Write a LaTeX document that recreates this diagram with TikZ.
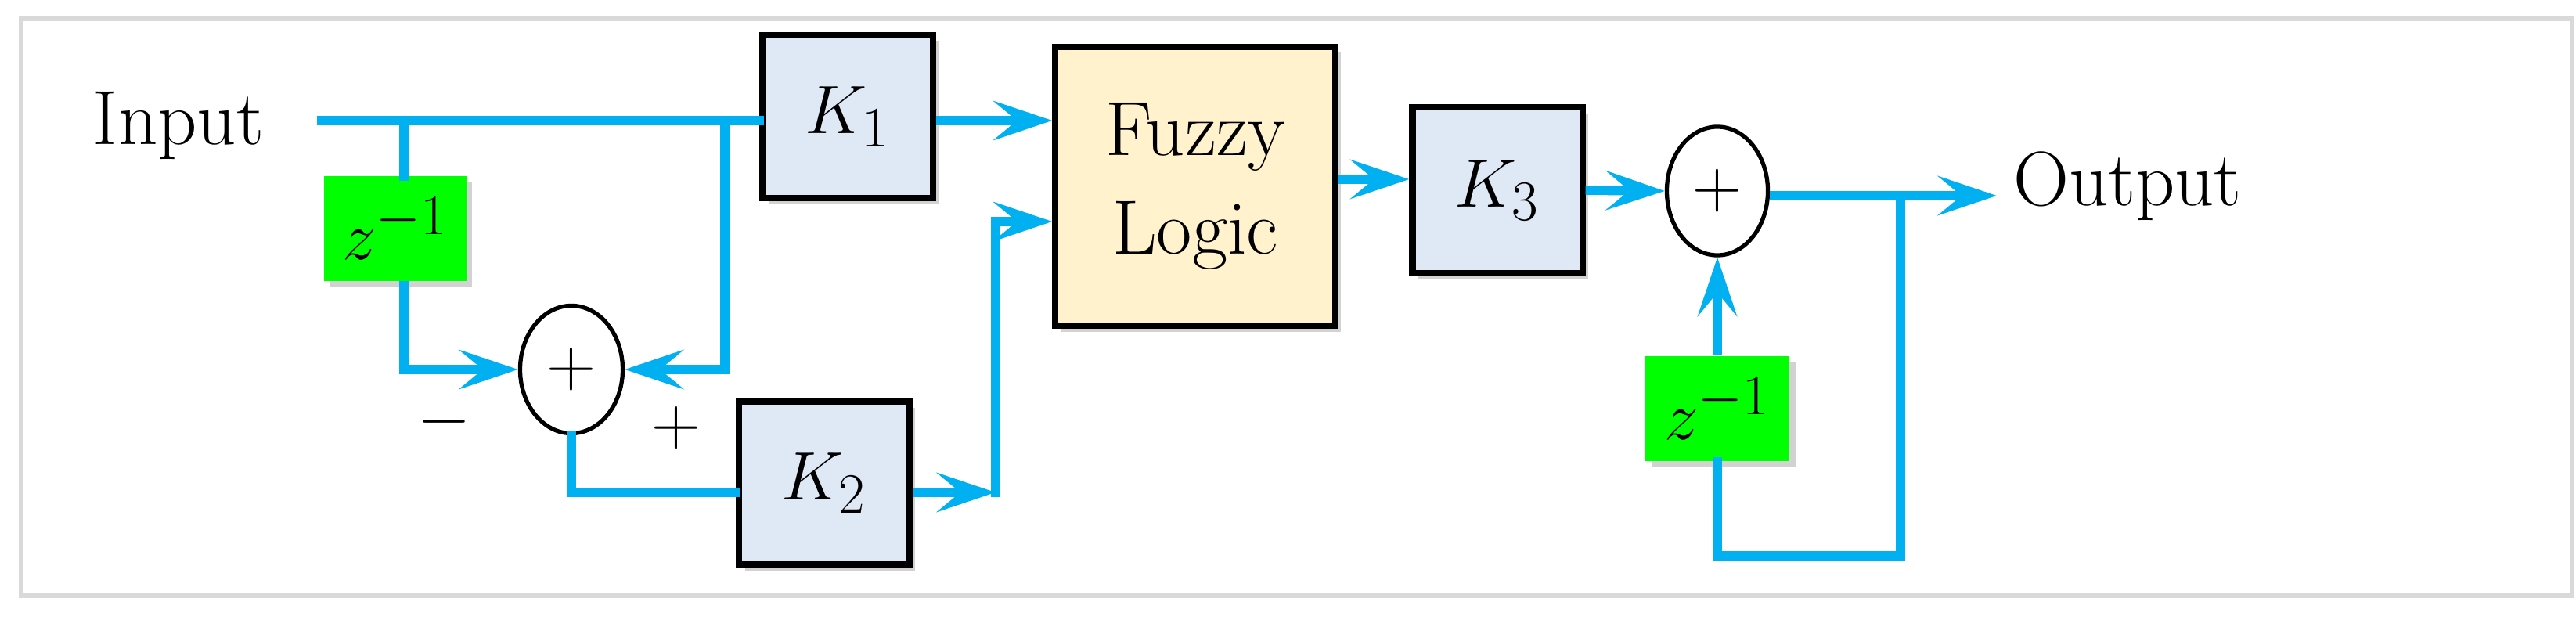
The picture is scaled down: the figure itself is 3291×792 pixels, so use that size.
\documentclass[tikz,border=0pt]{standalone}
\usetikzlibrary{arrows.meta,shadows,shapes.geometric}
\begin{document}
\begin{tikzpicture}[x={(0.01cm,0)},y={(0,-0.01cm)},
  font=\fontsize{28}{32}\selectfont,
  wire/.style={draw={rgb,255:red,0;green,176;blue,240},line width=3.4pt,line cap=rect},
  arr/.style={draw={rgb,255:red,0;green,176;blue,240},line width=3.4pt,-{Stealth[length=7.5mm,width=5mm,inset=3mm]}},
  kbox/.style={draw=black,line width=2.3pt,fill={rgb,255:red,222;green,233;blue,245},drop shadow={opacity=0.35}},
  zbox/.style={fill={rgb,255:red,0;green,255;blue,0},drop shadow={opacity=0.35},font=\fontsize{32}{36}\selectfont},
  sum/.style={draw=black,line width=1.5pt,ellipse,fill=white},
  sign/.style={font=\fontsize{50}{50}\selectfont}]
\useasboundingbox (0,0) rectangle (3291,792);
\draw[draw={rgb,255:red,217;green,217;blue,217},line width=1.7pt,fill=white] (27,24) rectangle (3286,761);
% nodes
\node (in) at (228,160) {Input};
\node[kbox,minimum width=2.17cm,minimum height=2.08cm] (k1) at (1083,149) {$K_1$};
\node[zbox,minimum width=1.81cm,minimum height=1.33cm] (z1) at (505,292) {$z^{-1}$};
\node[sum,minimum width=1.31cm,minimum height=1.63cm,inner sep=0,sign] (s1) at (730,472) {$+$};
\node[sign] (mi) at (568,539) {$-$};
\node[sign] (pl) at (864,547) {$+$};
\node[draw=black,line width=2.3pt,fill={rgb,255:red,255;green,242;blue,204},minimum width=3.57cm,minimum height=3.56cm,align=center,drop shadow={opacity=0.35}] (fz) at (1527,238) {Fuzzy\\[4pt]Logic};
\node[kbox,minimum width=2.17cm,minimum height=2.08cm] (k2) at (1053,617) {$K_2$};
\node[kbox,minimum width=2.17cm,minimum height=2.12cm] (k3) at (1913,243) {$K_3$};
\node[sum,minimum width=1.29cm,minimum height=1.64cm,inner sep=0,sign] (s2) at (2194,244) {$+$};
\node[zbox,minimum width=1.84cm,minimum height=1.34cm] (z2) at (2194,522) {$z^{-1}$};
\node (out) at (2718,238) {Output};
% coordinates
\coordinate (a0) at (411,154);
\coordinate (b1) at (516,154);
\coordinate (b2) at (926,154);
\coordinate (f2) at (1272,629);
\coordinate (f3) at (1272,283);
\coordinate (o1) at (2428,250);
\coordinate (o2) at (2551,250);
\coordinate (o3) at (2428,710);
\coordinate (o4) at (2194,710);
% wires
\draw[wire] (a0) -- (a0 -| k1.west);
\draw[wire] (b1) -- (b1 |- z1.north);
\draw[arr] (b1 |- z1.south) |- (s1.west);
\draw[arr] (b2) |- (s1.east);
\draw[arr] (a0 -| k1.east) -- (a0 -| fz.west);
\draw[wire] (s1.south) |- (f2 -| k2.west);
\draw[arr] (f2 -| k2.east) -- (f2);
\draw[wire] (f2) -- (f3);
\draw[arr] (f3) -- (fz.west |- f3);
\draw[arr] (fz.east |- 0,229) -- (k3.west |- 0,229);
\draw[arr] (k3.east) -- (s2.west);
\draw[arr] (s2.east |- o1) -- (o2);
\draw[wire] (o1) -- (o3) -- (o4) -- (z2.south);
\draw[arr] (z2.north) -- (s2.south);
\end{tikzpicture}
\end{document}
